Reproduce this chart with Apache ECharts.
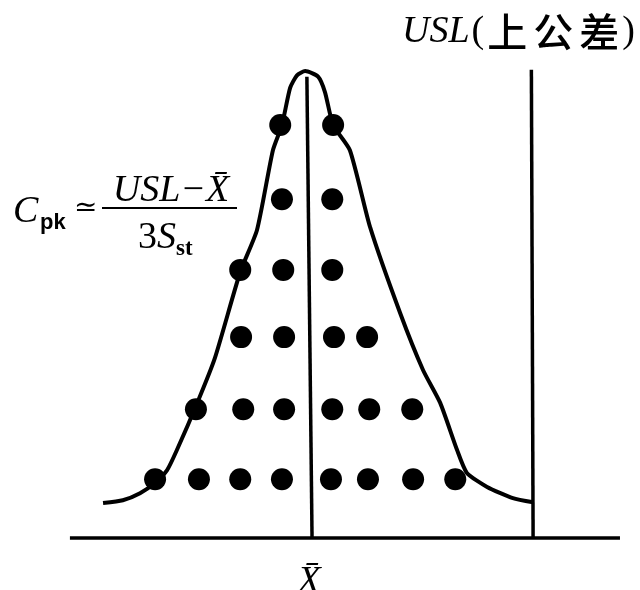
<!DOCTYPE html>
<html>
<head>
<meta charset="utf-8">
<script src="https://cdn.jsdelivr.net/npm/echarts@6/dist/echarts.min.js"></script>
<style>
  html, body { margin: 0; padding: 0; background: #fff; }
  #chart { width: 640px; height: 590px; }
</style>
</head>
<body>
<div id="chart"></div>
<script>
// 分布曲线（x: 以点间距为单位，X̄ 在 0；y: 以行高为单位，基线在 0）
const curveX = [-4.86, -4.40, -4.00, -3.65, -3.37, -3.14, -2.67, -2.26, -1.67, -1.28, -0.91, -0.70, -0.51, -0.35, -0.16, 0.14, 0.30, 0.49, 0.88, 1.35, 2.05, 2.58, 2.98, 3.37, 3.60, 4.07, 4.67, 5.14]
const curveY = [0.50, 0.54, 0.64, 0.79, 0.97, 1.26, 1.93, 2.57, 3.80, 4.40, 5.54, 5.90, 6.43, 6.61, 6.67, 6.59, 6.37, 5.90, 5.54, 4.44, 3.21, 2.40, 1.93, 1.26, 0.93, 0.73, 0.57, 0.51]

// 数据点：每一行的高度和各点位置
const dotRowY = [0.84, 1.84, 2.87, 3.83, 4.84, 5.90]
const dotRowsX = [
  [-3.65, -2.63, -1.67, -0.70, 0.44, 1.30, 2.35, 3.33],
  [-2.70, -1.60, -0.65, 0.47, 1.33, 2.33],
  [-1.65, -0.65, 0.51, 1.28],
  [-1.67, -0.67, 0.47],
  [-0.70, 0.47],
  [-0.74, 0.49]
]

// 均值线、上公差线、横轴
const meanLineX = [-0.12, 0]
const meanLineY = [6.59, 0]
const uslLineX = [5.10, 5.14]
const uslLineY = [6.69, 0]
const baseX = [-5.63, 7.16]
const baseY = [0, 0]

const zip = (xs, ys) => xs.map((x, i) => [x, ys[i]])

const dots = []
dotRowsX.forEach((row, i) => {
  row.forEach(x => dots.push([x, dotRowY[i]]))
})

const black = '#000'
const serif = '"Liberation Serif", "DejaVu Serif", serif'

const chart = echarts.init(document.getElementById('chart'))

chart.setOption({
  animation: false,
  backgroundColor: '#fff',
  grid: { left: 11, right: 14, top: 48, bottom: 3 },
  xAxis: { type: 'value', min: -7, max: 7.3, show: false },
  yAxis: { type: 'value', min: -0.7, max: 7, show: false },
  series: [
    {
      type: 'line',
      data: zip(baseX, baseY),
      symbol: 'none',
      lineStyle: { color: black, width: 3.5 }
    },
    {
      type: 'line',
      data: zip(meanLineX, meanLineY),
      symbol: 'none',
      lineStyle: { color: black, width: 3.5 }
    },
    {
      type: 'line',
      data: zip(uslLineX, uslLineY),
      symbol: 'none',
      lineStyle: { color: black, width: 3.5 }
    },
    {
      type: 'line',
      data: zip(curveX, curveY),
      smooth: 0.2,
      symbol: 'none',
      lineStyle: { color: black, width: 4 }
    },
    {
      type: 'scatter',
      data: dots,
      symbolSize: 22,
      itemStyle: { color: black, opacity: 1 }
    }
  ],
  graphic: [
    // USL（上公差）
    {
      type: 'text',
      x: 402,
      y: 32,
      style: {
        text: '{u|USL}{p|(}{c|上}{c|公}{c|差}{p|)}',
        textVerticalAlign: 'middle',
        fill: black,
        rich: {
          u: { font: 'italic 38px ' + serif, fill: black, padding: [0, 2, 0, 0] },
          p: { font: '38px ' + serif, fill: black },
          c: { font: '500 40px "Noto Sans CJK SC"', fill: black, padding: [0, 3] }
        }
      }
    },
    // Cpk 公式
    {
      type: 'text',
      x: 13,
      y: 212,
      style: { text: 'C', font: 'italic 38px ' + serif, fill: black, textVerticalAlign: 'middle' }
    },
    {
      type: 'text',
      x: 40,
      y: 223,
      style: { text: 'pk', font: 'bold 22px "Liberation Sans", sans-serif', fill: black, textVerticalAlign: 'middle' }
    },
    {
      type: 'text',
      x: 74,
      y: 209,
      style: { text: '≃', font: '28px "DejaVu Serif", serif', fill: black, textVerticalAlign: 'middle' }
    },
    {
      type: 'text',
      x: 171,
      y: 191,
      style: { text: 'USL−X\u0304', font: 'italic 38px ' + serif, fill: black, textAlign: 'center', textVerticalAlign: 'middle' }
    },
    {
      type: 'line',
      shape: { x1: 102, y1: 208, x2: 237, y2: 208 },
      style: { stroke: black, lineWidth: 2 }
    },
    {
      type: 'text',
      x: 138,
      y: 238,
      style: {
        text: '{n|3}{s|S}{b|st}',
        textVerticalAlign: 'middle',
        fill: black,
        rich: {
          n: { font: '38px ' + serif, fill: black },
          s: { font: 'italic 38px ' + serif, fill: black },
          b: { font: 'bold 23px ' + serif, fill: black, padding: [22, 0, 0, 0] }
        }
      }
    },
    // 横轴下的 X̄
    {
      type: 'text',
      x: 309,
      y: 582,
      style: { text: 'X\u0304', font: 'italic 38px ' + serif, fill: black, textAlign: 'center', textVerticalAlign: 'middle' }
    }
  ]
})
</script>
</body>
</html>
